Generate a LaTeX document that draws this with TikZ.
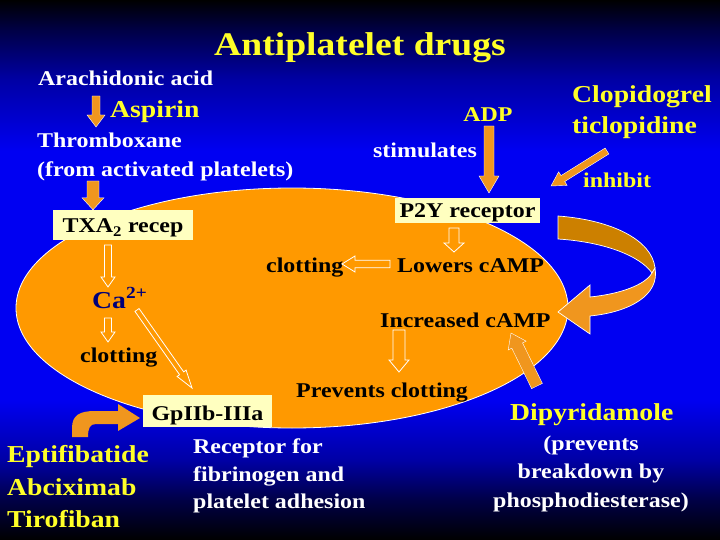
\documentclass[tikz,border=0pt]{standalone}
\usepackage{fontspec}
\setmainfont{Liberation Serif}[FakeStretch=1.14]
\usetikzlibrary{calc}
\definecolor{bgblue}{RGB}{0,0,242}
\definecolor{bgc1}{RGB}{0,0,70}
\definecolor{bgc2}{RGB}{0,0,165}
\definecolor{ellorange}{RGB}{255,153,0}
\definecolor{darkorange}{RGB}{204,128,0}
\definecolor{arrorange}{RGB}{240,150,30}
\definecolor{boxyellow}{RGB}{255,255,192}
\definecolor{ytext}{RGB}{255,255,40}
\definecolor{canavy}{RGB}{0,0,120}
\pgfdeclareverticalshading{bgshade}{100bp}{color(0bp)=(black); color(25bp)=(black); color(28.7bp)=(bgc1); color(32.4bp)=(bgc2); color(38bp)=(bgblue); color(61bp)=(bgblue); color(67.6bp)=(bgc2); color(72.2bp)=(bgc1); color(75bp)=(black); color(100bp)=(black)}
% block arrow: style, start, end, shaft half width, head half width, head length
\newcommand\blockarrow[6]{%
  \coordinate (bah) at ($#3!#6!#2$);
  \path[#1] ($#2!#4!90:#3$) -- ($(bah)!#4!90:#3$) -- ($(bah)!#5!90:#3$) -- #3
    -- ($(bah)!#5!-90:#3$) -- ($(bah)!#4!-90:#3$) -- ($#2!#4!-90:#3$) -- cycle;}
\begin{document}
\begin{tikzpicture}[x=1pt,y=-1pt,
  txt/.style={inner sep=0pt, font=\bfseries\fontsize{21}{25}\selectfont},
  wt/.style={txt, text=white},
  yt/.style={txt, text=ytext},
  bt/.style={txt, text=black},
  big/.style={font=\bfseries\fontsize{24.3}{29}\selectfont},
  box/.style={fill=boxyellow, inner sep=0pt},
  hlarrow/.style={draw=white, line width=0.8pt},
  orarrow/.style={fill=arrorange, draw=white, line width=0.4pt},
]
\useasboundingbox (0,0) rectangle (720,540);
\shade[shading=bgshade] (0,0) rectangle (720,540);

% platelet
\draw[fill=ellorange, draw=white, line width=0.8pt] (292,308) ellipse [x radius=276pt, y radius=120pt];

% big curved arrow (right)
\draw[fill=darkorange, draw=white, line width=0.7pt]
  (558,216) .. controls (612,220) and (652,240) .. (655,268) -- (652,273)
  .. controls (640,256) and (605,242) .. (558,239) -- cycle;
\draw[fill=arrorange, draw=white, line width=0.7pt]
  (655,268) .. controls (660,295) and (630,312) .. (590,316) -- (590,334) -- (558,312)
  -- (590,285) -- (590,297) .. controls (620,294) and (645,285) .. (652,273) -- cycle;

% boxes
\node[box, minimum width=140pt, minimum height=30pt] (txabox) at (123,225) {};
\node[box, minimum width=145pt, minimum height=25pt] (p2ybox) at (467.5,210.5) {};
\node[box, minimum width=129pt, minimum height=32pt] (gpbox) at (207.5,411) {};

% texts
\node[yt, font=\bfseries\fontsize{33}{40}\selectfont, anchor=base] (title) at (360,56) {Antiplatelet drugs};
\node[wt, anchor=base west] (arach) at (38,86) {Arachidonic acid};
\node[yt, big, anchor=base west] (aspirin) at (110,118) {Aspirin};
\node[wt, anchor=base west] (thromb) at (37,148) {Thromboxane};
\node[wt, anchor=base west] (fromact) at (37,177) {(from activated platelets)};
\node[yt, anchor=base] (adp) at (488,122) {ADP};
\node[wt, anchor=base] (stim) at (425,158) {stimulates};
\node[yt, big, anchor=base west] (clop) at (572,103) {Clopidogrel};
\node[yt, big, anchor=base west] (ticlo) at (572,134) {ticlopidine};
\node[yt, anchor=base west] (inhibit) at (583,188) {inhibit};
\node[bt, anchor=base] (p2y) at (467.5,218) {P2Y receptor};
\node[bt, anchor=base] (txa) at (123,233) {TXA\textsubscript{2} recep};
\node[bt, anchor=base west] (clotmid) at (266,272) {clotting};
\node[bt, anchor=base west] (lowers) at (397,272) {Lowers cAMP};
\node[txt, big, text=canavy, anchor=base west] (ca) at (92,308) {Ca\textsuperscript{2+}};
\node[bt, anchor=base west] (incr) at (380,327) {Increased cAMP};
\node[bt, anchor=base west] (clotleft) at (80,362) {clotting};
\node[bt, anchor=base west] (prev) at (296,397) {Prevents clotting};
\node[bt, anchor=base] (gp) at (207.5,420) {GpIIb-IIIa};
\node[yt, big, anchor=base west] (dipy) at (510,420) {Dipyridamole};
\node[wt, anchor=base] (prevts) at (591,450) {(prevents};
\node[wt, anchor=base] (breakdown) at (591,478) {breakdown by};
\node[wt, anchor=base] (phospho) at (591,507) {phosphodiesterase)};
\node[yt, big, anchor=base west] (epti) at (7,462) {Eptifibatide};
\node[yt, big, anchor=base west] (abci) at (7,495) {Abciximab};
\node[yt, big, anchor=base west] (tiro) at (7,527) {Tirofiban};
\node[wt, anchor=base west] (rec1) at (193,453) {Receptor for};
\node[wt, anchor=base west] (rec2) at (193,481) {fibrinogen and};
\node[wt, anchor=base west] (rec3) at (193,508) {platelet adhesion};

% solid orange arrows
\coordinate (asp1) at (96,96); \coordinate (asp2) at (96,127);
\blockarrow{orarrow}{(asp1)}{(asp2)}{4pt}{9pt}{12pt}
\coordinate (th1) at (93,181); \coordinate (th2) at (txabox.north -| th1);
\blockarrow{orarrow}{(th1)}{(th2)}{6pt}{11pt}{12pt}
\coordinate (adp1) at (489,126); \coordinate (adp2) at (489,193);
\blockarrow{orarrow}{(adp1)}{(adp2)}{5pt}{10pt}{17pt}
\coordinate (cl1) at (607,151); \coordinate (cl2) at (551,186);
\blockarrow{orarrow}{(cl1)}{(cl2)}{3.5pt}{8pt}{14pt}
\coordinate (d1) at (537,386); \coordinate (d2) at (511,333);
\blockarrow{orarrow}{(d1)}{(d2)}{6pt}{10pt}{14pt}

% hollow arrows
\coordinate (p1) at (454,228); \coordinate (p2) at (454,252);
\blockarrow{hlarrow}{(p1)}{(p2)}{5pt}{10pt}{9pt}
\coordinate (l1) at (390,264); \coordinate (l2) at (342,264);
\blockarrow{hlarrow}{(l1)}{(l2)}{3.7pt}{8pt}{13pt}
\coordinate (t1) at (108,245); \coordinate (t2) at (108,287);
\blockarrow{hlarrow}{(t1)}{(t2)}{3.5pt}{7pt}{10pt}
\coordinate (c1) at (108,318); \coordinate (c2) at (108,342);
\blockarrow{hlarrow}{(c1)}{(c2)}{3.5pt}{7pt}{10pt}
\coordinate (g1) at (137,310); \coordinate (g2) at (192,388);
\blockarrow{hlarrow}{(g1)}{(g2)}{2.5pt}{5.5pt}{18pt}
\coordinate (i1) at (399,330); \coordinate (i2) at (399,372);
\blockarrow{hlarrow}{(i1)}{(i2)}{6pt}{10pt}{12pt}

% bent arrow to GpIIb-IIIa
\fill[arrorange] (72,437) -- (72,428) .. controls (72,415) and (80,411) .. (95,411)
  -- (118,411) -- (118,404) -- (140,418) -- (118,431) -- (118,424) -- (96,424)
  .. controls (90,424) and (88,428) .. (88,437) -- cycle;
\end{tikzpicture}
\end{document}
